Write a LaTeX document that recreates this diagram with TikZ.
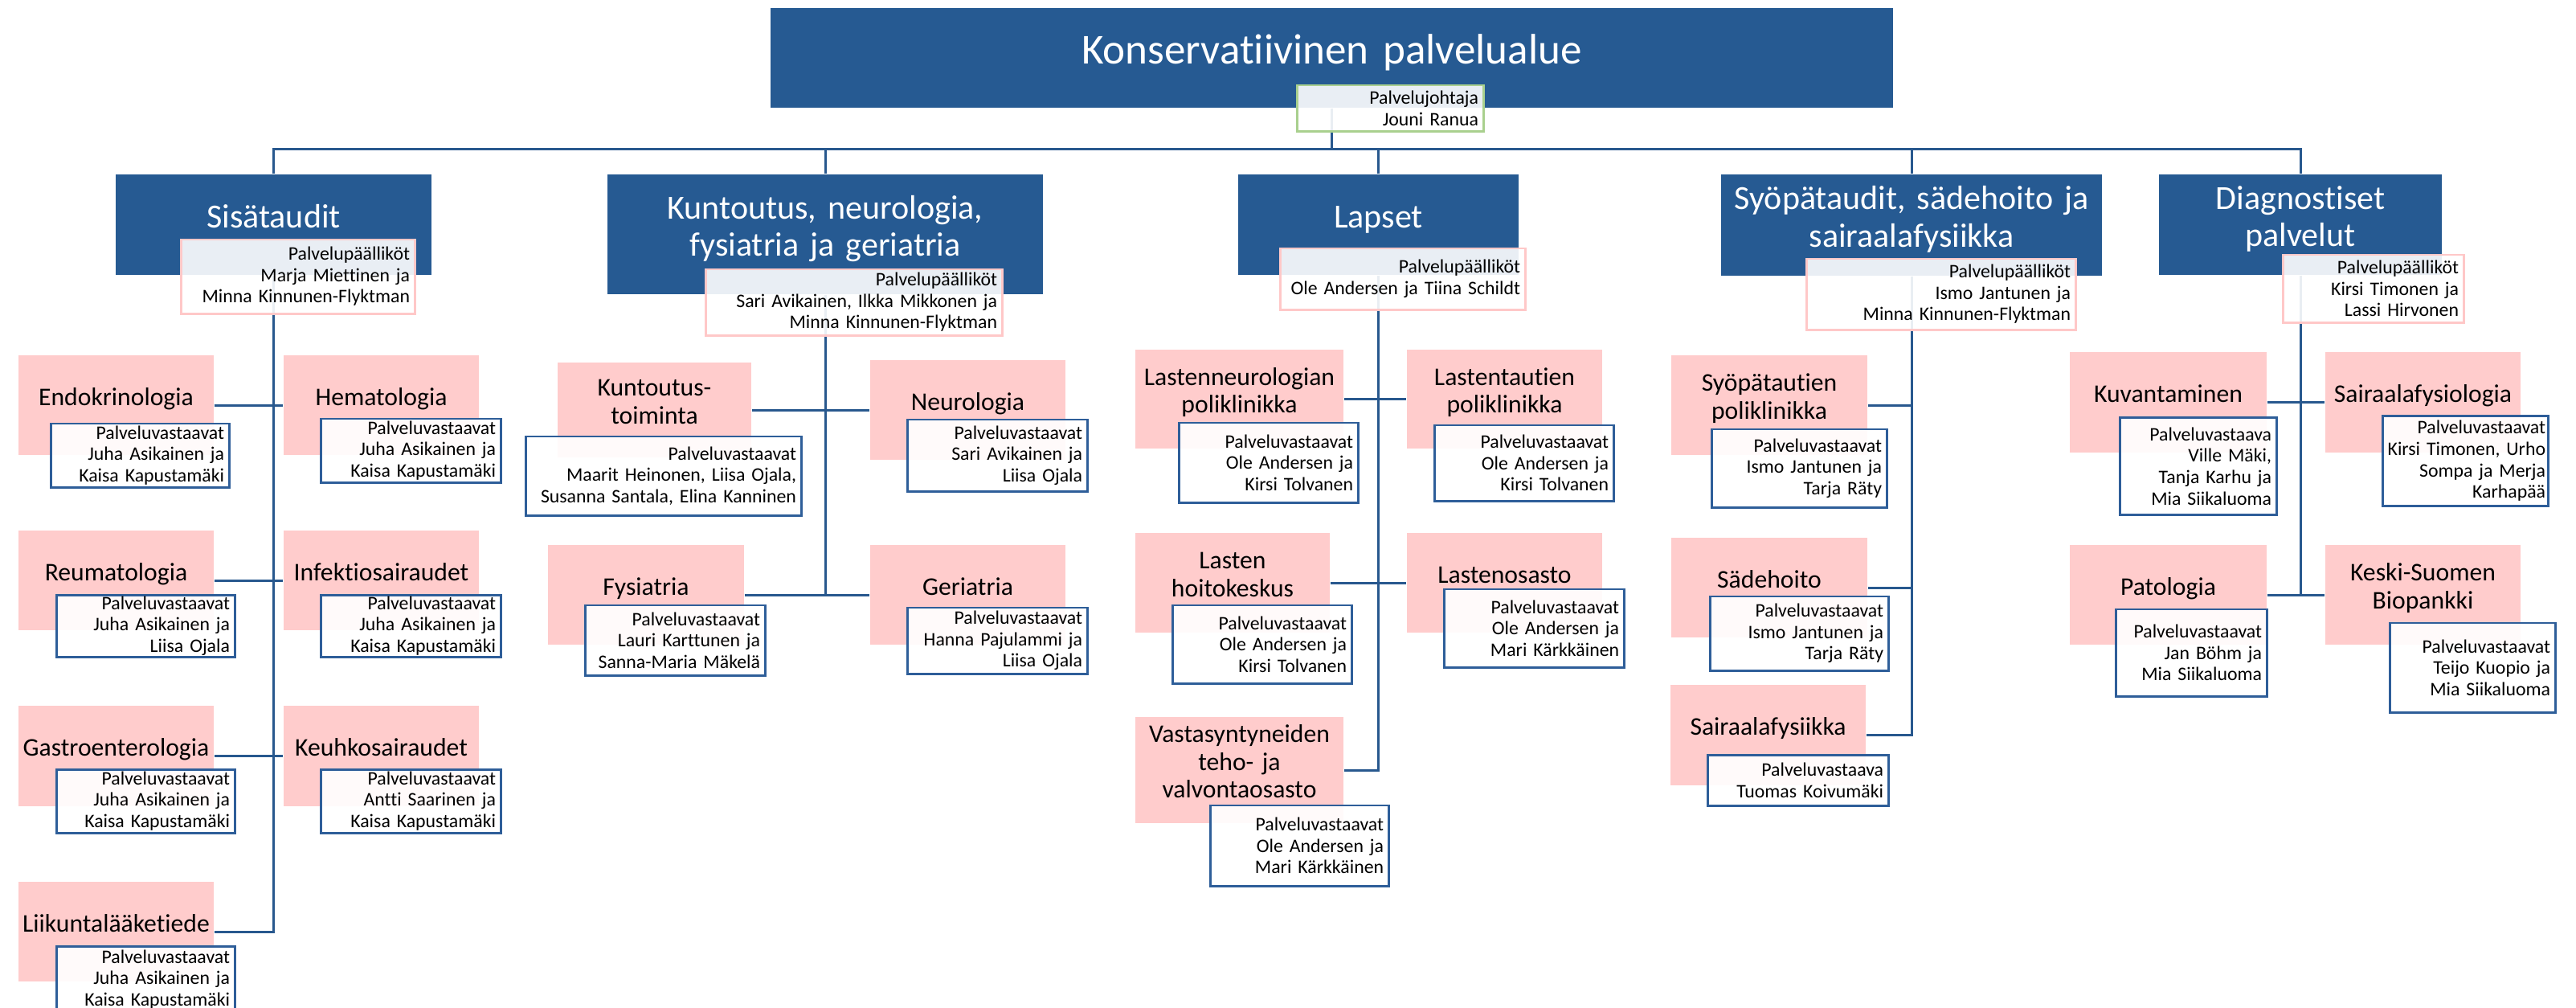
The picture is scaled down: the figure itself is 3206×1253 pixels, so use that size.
\documentclass[tikz,border=0pt]{standalone}
\usepackage{fontspec}
\setmainfont{Carlito}[Ligatures={NoCommon}]
\usetikzlibrary{backgrounds}
\definecolor{headBlue}{RGB}{38,90,146}
\definecolor{lineBlue}{RGB}{40,88,142}
\definecolor{vastBlue}{RGB}{46,94,153}
\definecolor{unitPink}{RGB}{255,204,204}
\definecolor{ppPink}{RGB}{255,200,200}
\definecolor{chiefGreen}{RGB}{169,208,142}
\newcommand{\fTitle}{\fontsize{15.1}{17}\selectfont}
\newcommand{\fHead}{\fontsize{11.95}{13.2}\selectfont}
\newcommand{\fUnit}{\fontsize{9.0}{9.87}\selectfont}
\newcommand{\fSmall}{\fontsize{6.77}{7.57}\selectfont}
\tikzset{
    % Lines
    conn/.style={draw=lineBlue, line width=0.85pt},
    % Boxes
    headBox/.style={rectangle, fill=headBlue, text=white, inner sep=0pt, align=center, font=\fHead},
    unitBox/.style={rectangle, fill=unitPink, inner sep=0pt, align=center, font=\fUnit},
    ppBox/.style={rectangle, draw=ppPink, line width=0.85pt, fill=white, fill opacity=0.9, text opacity=1,
                  inner xsep=0.06cm, inner ysep=0pt, align=right, font=\fSmall},
    vastBox/.style={ppBox, draw=vastBlue},
    chiefBox/.style={ppBox, draw=chiefGreen},
    % Baseline placement
    headOne/.style={text height=0.08cm, text depth=0pt},
    headTwo/.style={text height=0pt, text depth=0.385cm},
    oneLine/.style={text height=0pt, text depth=0pt},
    twoLines/.style={text height=0pt, text depth=0.347cm},
    threeLines/.style={text height=0pt, text depth=0.694cm}
}

\begin{document}
\begin{tikzpicture}[x=0.01cm, y=-0.01cm]
\useasboundingbox (0,0) rectangle (3206,1253);

% Palvelualue
\node[headBox, font=\fTitle, text width=13.97cm, minimum height=1.24cm, text height=0.14cm, text depth=0pt] (title) at (1657.5,72) {Konservatiivinen palvelualue};
\node[chiefBox, text width=2.19cm, minimum height=0.57cm] (pj) at (1730.5,134.5) {Palvelujohtaja\\Jouni Ranua};

% Vastuualueet
\node[headBox, headOne, text width=3.93cm, minimum height=1.25cm] (sis) at (340.5,279.5) {Sisätaudit};
\node[headBox, headTwo, text width=5.42cm, minimum height=1.49cm] (kun) at (1027,291.5) {Kuntoutus, neurologia,\\fysiatria ja geriatria};
\node[headBox, headOne, text width=3.49cm, minimum height=1.25cm] (lap) at (1715.5,279.5) {Lapset};
\node[headBox, headTwo, text width=4.74cm, minimum height=1.26cm] (syo) at (2379,280) {Syöpätaudit, sädehoito ja\\sairaalafysiikka};
\node[headBox, headTwo, text width=3.52cm, minimum height=1.25cm] (dia) at (2863,279.5) {Diagnostiset\\palvelut};

\node[ppBox, text width=2.78cm, minimum height=0.92cm] (sis-pp) at (371,344) {Palvelupäälliköt\\Marja Miettinen ja\\Minna Kinnunen-Flyktman};
\node[ppBox, text width=3.56cm, minimum height=0.82cm] (kun-pp) at (1063,376) {Palvelupäälliköt\\Sari Avikainen, Ilkka Mikkonen ja\\Minna Kinnunen-Flyktman};
\node[ppBox, text width=2.92cm, minimum height=0.76cm] (lap-pp) at (1746,347) {Palvelupäälliköt\\Ole Andersen ja Tiina Schildt};
\node[ppBox, text width=3.22cm, minimum height=0.88cm] (syo-pp) at (2416,366) {Palvelupäälliköt\\Ismo Jantunen ja\\Minna Kinnunen-Flyktman};
\node[ppBox, text width=2.12cm, minimum height=0.84cm] (dia-pp) at (2954,359) {Palvelupäälliköt\\Kirsi Timonen ja\\Lassi Hirvonen};

% Sisätaudit
\node[unitBox, oneLine, text width=2.43cm, minimum height=1.24cm] (endo) at (144.5,504) {Endokrinologia};
\node[unitBox, oneLine, text width=2.43cm, minimum height=1.24cm] (hema) at (474.5,504) {Hematologia};
\node[unitBox, oneLine, text width=2.43cm, minimum height=1.24cm] (reuma) at (144.5,722) {Reumatologia};
\node[unitBox, oneLine, text width=2.43cm, minimum height=1.24cm] (infe) at (474.5,722) {Infektiosairaudet};
\node[unitBox, oneLine, text width=2.43cm, minimum height=1.25cm] (gastro) at (144.5,940.5) {Gastroenterologia};
\node[unitBox, oneLine, text width=2.43cm, minimum height=1.25cm] (keuh) at (474.5,940.5) {Keuhkosairaudet};
\node[unitBox, oneLine, text width=2.43cm, minimum height=1.24cm] (liik) at (144.5,1159) {Liikuntalääketiede};

\node[vastBox, text width=2.09cm, minimum height=0.79cm] (endo-v) at (174.5,566.5) {Palveluvastaavat\\Juha Asikainen ja\\Kaisa Kapustamäki};
\node[vastBox, text width=2.11cm, minimum height=0.79cm] (hema-v) at (511.5,560.5) {Palveluvastaavat\\Juha Asikainen ja\\Kaisa Kapustamäki};
\node[vastBox, text width=2.09cm, minimum height=0.77cm] (reuma-v) at (181.5,778.5) {Palveluvastaavat\\Juha Asikainen ja\\Liisa Ojala};
\node[vastBox, text width=2.11cm, minimum height=0.77cm] (infe-v) at (511.5,778.5) {Palveluvastaavat\\Juha Asikainen ja\\Kaisa Kapustamäki};
\node[vastBox, text width=2.09cm, minimum height=0.79cm] (gastro-v) at (181.5,996.5) {Palveluvastaavat\\Juha Asikainen ja\\Kaisa Kapustamäki};
\node[vastBox, text width=2.11cm, minimum height=0.79cm] (keuh-v) at (511.5,996.5) {Palveluvastaavat\\Antti Saarinen ja\\Kaisa Kapustamäki};
\node[vastBox, text width=2.09cm, minimum height=0.83cm] (liik-v) at (181.5,1218.5) {Palveluvastaavat\\Juha Asikainen ja\\Kaisa Kapustamäki};

% Kuntoutus, neurologia, fysiatria ja geriatria
\node[unitBox, twoLines, text width=2.41cm, minimum height=1.18cm] (kunt) at (814.5,510) {Kuntoutus-\\toiminta};
\node[unitBox, oneLine, text width=2.43cm, minimum height=1.24cm] (neuro) at (1204.5,510) {Neurologia};
\node[unitBox, oneLine, text width=2.44cm, minimum height=1.24cm] (fysi) at (804,740) {Fysiatria};
\node[unitBox, oneLine, text width=2.43cm, minimum height=1.24cm] (geri) at (1204.5,740) {Geriatria};

\node[vastBox, text width=3.30cm, minimum height=0.98cm] (kunt-v) at (826,592) {Palveluvastaavat\\Maarit Heinonen, Liisa Ojala,\\Susanna Santala, Elina Kanninen};
\node[vastBox, text width=2.11cm, minimum height=0.89cm] (neuro-v) at (1241.5,566.5) {Palveluvastaavat\\Sari Avikainen ja\\Liisa Ojala};
\node[vastBox, text width=2.11cm, minimum height=0.87cm] (fysi-v) at (840.5,796.5) {Palveluvastaavat\\Lauri Karttunen ja\\Sanna-Maria Mäkelä};
\node[vastBox, text width=2.11cm, minimum height=0.82cm] (geri-v) at (1241.5,797) {Palveluvastaavat\\Hanna Pajulammi ja\\Liisa Ojala};

% Lapset
\node[unitBox, twoLines, text width=2.59cm, minimum height=1.23cm] (lneur) at (1542.5,496.5) {Lastenneurologian\\poliklinikka};
\node[unitBox, twoLines, text width=2.43cm, minimum height=1.23cm] (ltaut) at (1872.5,496.5) {Lastentautien\\poliklinikka};
\node[unitBox, twoLines, text width=2.42cm, minimum height=1.24cm] (lhoito) at (1534,725) {Lasten\\hoitokeskus};
\node[unitBox, oneLine, text width=2.43cm, minimum height=1.24cm] (losa) at (1872.5,725) {Lastenosasto};
\node[unitBox, threeLines, text width=2.59cm, minimum height=1.32cm] (vasta) at (1542.5,958) {Vastasyntyneiden\\teho- ja\\valvontaosasto};

\node[vastBox, text width=2.10cm, minimum height=0.99cm] (lneur-v) at (1579,575.5) {Palveluvastaavat\\Ole Andersen ja\\Kirsi Tolvanen};
\node[vastBox, text width=2.10cm, minimum height=0.94cm] (ltaut-v) at (1897,576) {Palveluvastaavat\\Ole Andersen ja\\Kirsi Tolvanen};
\node[vastBox, text width=2.10cm, minimum height=0.97cm] (lhoito-v) at (1571,801.5) {Palveluvastaavat\\Ole Andersen ja\\Kirsi Tolvanen};
\node[vastBox, text width=2.11cm, minimum height=0.97cm] (losa-v) at (1909.5,781.5) {Palveluvastaavat\\Ole Andersen ja\\Mari Kärkkäinen};
\node[vastBox, text width=2.09cm, minimum height=1.00cm] (vasta-v) at (1617.5,1052) {Palveluvastaavat\\Ole Andersen ja\\Mari Kärkkäinen};

% Syöpätaudit, sädehoito ja sairaalafysiikka
\node[unitBox, twoLines, text width=2.44cm, minimum height=1.24cm] (spol) at (2202,504) {Syöpätautien\\poliklinikka};
\node[unitBox, oneLine, text width=2.44cm, minimum height=1.24cm] (sade) at (2202,731) {Sädehoito};
\node[unitBox, oneLine, text width=2.43cm, minimum height=1.25cm] (sfys) at (2200.5,914.5) {Sairaalafysiikka};

\node[vastBox, text width=2.05cm, minimum height=0.97cm] (spol-v) at (2239.5,582.5) {Palveluvastaavat\\Ismo Jantunen ja\\Tarja Räty};
\node[vastBox, text width=2.09cm, minimum height=0.92cm] (sade-v) at (2239.5,788) {Palveluvastaavat\\Ismo Jantunen ja\\Tarja Räty};
\node[vastBox, text width=2.12cm, minimum height=0.63cm] (sfys-v) at (2238,970.5) {Palveluvastaava\\Tuomas Koivumäki};

% Diagnostiset palvelut
\node[unitBox, oneLine, text width=2.45cm, minimum height=1.25cm] (kuva) at (2698.5,500.5) {Kuvantaminen};
\node[unitBox, oneLine, text width=2.43cm, minimum height=1.25cm] (sfysio) at (3015.5,500.5) {Sairaalafysiologia};
\node[unitBox, oneLine, text width=2.45cm, minimum height=1.24cm] (pato) at (2698.5,740) {Patologia};
\node[unitBox, twoLines, text width=2.43cm, minimum height=1.24cm] (bio) at (3015.5,740) {Keski-Suomen\\Biopankki};

\node[vastBox, text width=1.82cm, minimum height=1.20cm] (kuva-v) at (2736,580) {Palveluvastaava\\Ville Mäki,\\Tanja Karhu ja\\Mia Siikaluoma};
\node[vastBox, inner xsep=0.03cm, text width=1.99cm, minimum height=1.11cm] (sfysio-v) at (3068.5,573.5) {Palveluvastaavat\\Kirsi Timonen, Urho\\Sompa ja Merja\\Karhapää};
\node[vastBox, text width=1.75cm, minimum height=1.08cm] (pato-v) at (2727.5,812) {Palveluvastaavat\\Jan Böhm ja\\Mia Siikaluoma};
\node[vastBox, text width=1.93cm, minimum height=1.11cm] (bio-v) at (3077.5,830.5) {Palveluvastaavat\\Teijo Kuopio ja\\Mia Siikaluoma};

% Connectors
\begin{scope}[on background layer]
\fill[white] (0,0) rectangle (3206,1253);
\coordinate (bus) at (0,185);
\draw[conn] (sis.north) -- (sis.north |- bus) -- (dia.north |- bus) -- (dia.north);
\foreach \h in {kun,lap,syo} \draw[conn] (\h.north) -- (\h.north |- bus);
\draw[conn] (title.south) -- (title.south |- bus);
\draw[conn] (sis.south) -- (liik.east -| sis.south) -- (liik.east);
\foreach \a/\b in {endo/hema,reuma/infe,gastro/keuh} \draw[conn] (\a.east) -- (\b.west);
\draw[conn] (kun.south) -- (fysi.east -| kun.south);
\foreach \a/\b in {kunt/neuro,fysi/geri} \draw[conn] (\a.east) -- (\b.west);
\draw[conn] (lap.south) -- (vasta.east -| lap.south) -- (vasta.east);
\foreach \a/\b in {lneur/ltaut,lhoito/losa} \draw[conn] (\a.east) -- (\b.west);
\draw[conn] (syo.south) -- (sfys.east -| syo.south) -- (sfys.east);
\foreach \a in {spol,sade} \draw[conn] (\a.east) -- (\a.east -| syo.south);
\draw[conn] (dia.south) -- (pato.east -| dia.south);
\foreach \a/\b in {kuva/sfysio,pato/bio} \draw[conn] (\a.east) -- (\b.west);
\end{scope}

\end{tikzpicture}
\end{document}
